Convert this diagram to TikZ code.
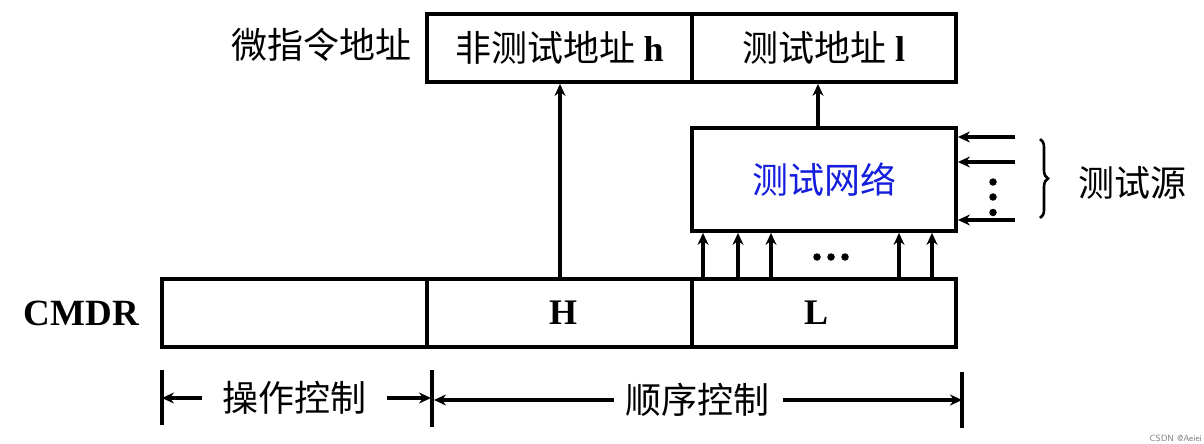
\documentclass[tikz,border=0pt]{standalone}
\usepackage{fontspec}
\setmainfont{Liberation Serif}
\newfontfamily\cjk{Noto Sans CJK SC}
\usetikzlibrary{arrows.meta,decorations.pathreplacing}
\definecolor{netblue}{RGB}{20,30,220}
\tikzset{
  box/.style={draw,line width=3.8pt,minimum width=265pt,minimum height=68pt,inner sep=0pt,font=\fontsize{36}{40}\selectfont\cjk},
  arr/.style={draw,line width=3.4pt,-{Stealth[length=12pt,width=11pt,inset=4pt]}},
  tickline/.style={draw,line width=3.4pt},
  lbl/.style={font=\fontsize{36}{40}\selectfont\cjk,inner sep=0pt},
  dot/.style={circle,fill,inner sep=0pt,minimum size=7.5pt}}
\begin{document}
\begin{tikzpicture}[x=1pt,y=-1pt]
\useasboundingbox (0,0) rectangle (1204,444);
% top address register
\node[box] (nh) at (559.5,48) {非测试地址 \textbf{\rmfamily h}};
\node[box,minimum width=264pt] (nl) at (824,48) {测试地址 \textbf{\rmfamily l}};
\node[lbl,anchor=east] (mia) at (412,45) {微指令地址};
% test network
\node[box,minimum width=264pt,minimum height=103pt,text=netblue] (tn) at (824,179.5) {测试网络};
% CMDR
\node[box] (c0) at (294.5,313) {};
\node[box] (cH) at (559.5,313) {\raisebox{-6pt}{\hspace{7pt}\textbf{\rmfamily H}}};
\node[box,minimum width=264pt] (cL) at (824,313) {\raisebox{-6pt}{\textbf{\rmfamily L}\hspace{16pt}}};
\node[font=\fontsize{37}{40}\selectfont\bfseries,anchor=east,inner sep=0pt] (cmdr) at (139,313) {CMDR};
% connectors
\path[arr] (cH.north -| 560,0) -- (nh.south -| 560,0);
\path[arr] (tn.north -| 818,0) -- (nl.south -| 818,0);
\foreach \x in {703,738,771,899,932}
  \path[arr] (cL.north -| \x,0) -- (tn.south -| \x,0);
\foreach \x in {817,831,845}
  \node[dot] at (\x,257) {};
% test sources
\coordinate (s1) at (1015,137);
\coordinate (s2) at (1015,162);
\coordinate (s3) at (1015,220);
\foreach \s in {s1,s2,s3}
  \path[arr] (\s) -- (tn.east |- \s);
\foreach \y in {182,197,212.5}
  \node[dot] at (993,\y) {};
\draw[line width=2.6pt,decorate,decoration={brace,amplitude=8pt}] (1040,139) -- (1040,218);
\node[lbl] (src) at (1132,183) {测试源};
% bottom range marks
\coordinate (t1a) at (162,370); \coordinate (t1b) at (162,425);
\coordinate (t2a) at (432,370); \coordinate (t2b) at (432,427);
\coordinate (t3a) at (962,372); \coordinate (t3b) at (962,428);
\path[tickline] (t1a) -- (t1b);
\path[tickline] (t2a) -- (t2b);
\path[tickline] (t3a) -- (t3b);
\node[lbl] (op) at (294,398) {操作控制};
\node[lbl] (seq) at (697,400) {顺序控制};
\coordinate (o1) at (202,398);
\coordinate (o2) at (387,398);
\coordinate (q1) at (614,400);
\coordinate (q2) at (783,400);
\path[arr] (o1) -- (t1a |- o1);
\path[arr] (o2) -- ([xshift=-1pt]t2a |- o2);
\path[arr] (q1) -- ([xshift=2pt]t2a |- q1);
\path[arr] (q2) -- (t3a |- q2);
\node[font=\fontsize{9}{10}\selectfont\sffamily,text=gray,anchor=south east,inner sep=2pt] (wm) at (1204,444) {CSDN @Aeiei};
\end{tikzpicture}
\end{document}
